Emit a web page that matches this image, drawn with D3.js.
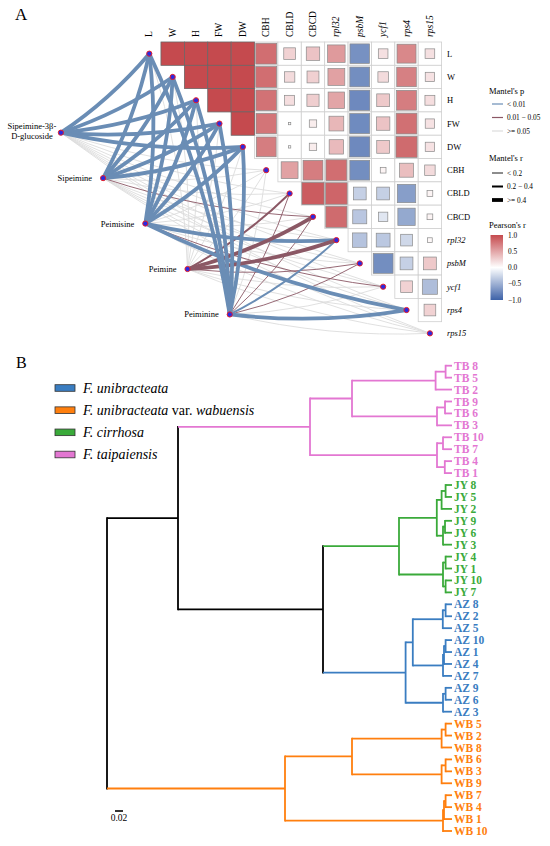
<!DOCTYPE html>
<html><head><meta charset="utf-8">
<script src="https://cdn.jsdelivr.net/npm/d3@7"></script>
<style>body{margin:0;background:#fff} svg{display:block} text{font-family:"Liberation Serif","Times New Roman",serif}</style>
</head><body><svg id="c" width="550" height="846"></svg>
<script>
// ---------------- DATA ----------------
const vars = ["L","W","H","FW","DW","CBH","CBLD","CBCD","rpl32","psbM","ycf1","rps4","rps15"];
const italicVars = ["rpl32","psbM","ycf1","rps4","rps15"];
// Pearson's r, upper triangle, row i holds r(i, j) for j > i
const rowL     = [1.0,1.0,1.0,1.0,0.80,0.25,0.33,0.56,-0.70,0.17,0.66,0.17];
const rowW     = [1.0,1.0,1.0,0.80,0.20,0.26,0.52,-0.72,0.20,0.70,0.16];
const rowH     = [1.0,1.0,0.78,0.18,0.27,0.50,-0.75,0.30,0.72,0.18];
const rowFW    = [1.0,0.76,0.01,0.10,0.40,-0.74,0.33,0.79,0.16];
const rowDW    = [0.72,0.01,0.10,0.38,-0.75,0.30,0.82,0.16];
const rowCBH   = [0.52,0.72,0.80,-0.72,0.06,0.36,0.20];
const rowCBLD  = [0.90,0.85,-0.30,-0.30,-0.62,0.06];
const rowCBCD  = [0.82,-0.36,-0.16,-0.55,0.06];
const rowRpl32 = [-0.38,-0.35,-0.25,0.04];
const rowPsbM  = [-0.72,-0.30,0.30];
const rowYcf1  = [0.25,-0.42];
const rowRps4  = [0.25];
const pearsonRows = [rowL,rowW,rowH,rowFW,rowDW,rowCBH,rowCBLD,rowCBCD,rowRpl32,rowPsbM,rowYcf1,rowRps4];

const compounds = ["Sipeimine-3β-D-glucoside","Sipeimine","Peimisine","Peimine","Peiminine"];
const compoundLabels = [["Sipeimine-3β-","D-glucoside"],["Sipeimine"],["Peimisine"],["Peimine"],["Peiminine"]];
// Mantel's p class per compound x variable: 0 "< 0.01", 1 "0.01 - 0.05", 2 ">= 0.05"
const mantelP = [
  [0,0,0,0,0,2,2,2,2,2,2,2,2],
  [0,0,0,0,0,2,2,1,2,2,2,2,2],
  [0,0,0,0,0,2,2,2,0,2,1,0,2],
  [2,2,2,2,2,2,1,1,1,1,2,2,2],
  [0,0,0,0,0,2,1,1,0,1,2,0,2]
];
// Mantel's r class: 0 "< 0.2", 1 "0.2 - 0.4", 2 ">= 0.4"
const mantelR = [
  [2,2,2,2,2,0,0,0,0,0,0,0,0],
  [2,2,2,2,2,0,0,0,0,0,0,0,0],
  [2,2,2,2,2,0,0,0,2,0,0,2,0],
  [0,0,0,0,0,0,1,2,2,0,0,0,0],
  [2,2,2,2,2,0,0,0,1,0,0,2,0]
];
const pLabels = ["< 0.01","0.01 \u2212 0.05",">= 0.05"];
const rLabels = ["< 0.2","0.2 \u2212 0.4",">= 0.4"];
const pearsonTicks = [1.0,0.5,0.0,-0.5,-1.0];

// Dendrogram (panel B)
const leaves = ["TB 8","TB 5","TB 2","TB 9","TB 6","TB 3","TB 10","TB 7","TB 4","TB 1",
  "JY 8","JY 5","JY 2","JY 9","JY 6","JY 3","JY 4","JY 1","JY 10","JY 7",
  "AZ 8","AZ 2","AZ 5","AZ 10","AZ 1","AZ 4","AZ 7","AZ 9","AZ 6","AZ 3",
  "WB 5","WB 2","WB 8","WB 6","WB 3","WB 9","WB 7","WB 4","WB 1","WB 10"];
// merges: [childA, childB, height]; "#k" refers to merge k
const merges = [
  ["TB 8","TB 5",0.016],["#0","TB 2",0.041],["TB 9","TB 6",0.0175],["#2","TB 3",0.0375],
  ["TB 10","TB 7",0.0225],["TB 4","TB 1",0.018],["#4","#5",0.0375],["#1","#3",0.25],["#7","#6",0.355],
  ["JY 8","JY 5",0.016],["#9","JY 2",0.026],["JY 9","JY 6",0.0175],["#11","JY 3",0.0225],["#10","#12",0.038],
  ["JY 4","JY 1",0.016],["JY 10","JY 7",0.016],["#14","#15",0.0225],["#13","#16",0.1325],
  ["AZ 8","AZ 2",0.016],["#18","AZ 5",0.023],["AZ 10","AZ 1",0.016],["#20","AZ 4",0.02],["#21","AZ 7",0.0225],
  ["#19","#22",0.098],["AZ 9","AZ 6",0.016],["#24","AZ 3",0.0225],["#23","#25",0.116],
  ["#17","#26",0.3225],["#8","#27",0.685],
  ["WB 5","WB 2",0.016],["#29","WB 8",0.026],["WB 6","WB 3",0.016],["#31","WB 9",0.026],
  ["WB 7","WB 4",0.016],["#33","WB 1",0.02],["#34","WB 10",0.0225],["#30","#32",0.25],["#36","#35",0.4175],
  ["#28","#37",0.8625]
];
const groupCodes = ["AZ","WB","JY","TB"];
const groupNames = [["F. unibracteata"],["F. unibracteata"," var. ","wabuensis"],["F. cirrhosa"],["F. taipaiensis"]];
const groupColors = ["#3a7dc1","#ff7f0e","#3aaa3a","#e377d2"];
const scaleBarValue = 0.02;

// ---------------- DRAW ----------------
const svg = d3.select("#c");

// Panel A
svg.append("text").attr("x",15).attr("y",20).attr("font-size",17).text("A");

const x = d3.scaleBand().domain(vars).range([137.6,441.6]);
const y = d3.scaleBand().domain(vars).range([42,345]);
const bw = x.bandwidth(), bh = y.bandwidth();
const color = d3.scaleLinear().domain([-1,0,1]).range(["#3d62a8","#ffffff","#c54a4e"]);
const cx = v => x(v)+bw/2, cy = v => y(v)+bh/2;

const cells = [];
pearsonRows.forEach((row,i)=>row.forEach((r,k)=>cells.push({a:vars[i],b:vars[i+1+k],r})));

const gHeat = svg.append("g");
gHeat.selectAll("rect.cell").data(cells).join("rect")
  .attr("x",d=>x(d.b)).attr("y",d=>y(d.a)).attr("width",bw).attr("height",bh)
  .attr("fill","#fff").attr("stroke","#cfcfcf").attr("stroke-width",0.8);
gHeat.selectAll("rect.sq").data(cells).join("rect")
  .each(function(d){
    const s = Math.sqrt(Math.abs(d.r));
    d3.select(this).attr("width",bw*s).attr("height",bh*s)
      .attr("x",cx(d.b)-bw*s/2).attr("y",cy(d.a)-bh*s/2);
  })
  .attr("fill",d=>color(d.r)).attr("stroke",d=>Math.abs(d.r)>0.95?"#666":"#8a8a8a").attr("stroke-width",0.7);

// column labels
svg.append("g").selectAll("text").data(vars).join("text")
  .attr("transform",d=>`translate(${cx(d)+3},37) rotate(-90)`)
  .attr("font-size",9.5).attr("font-style",d=>italicVars.includes(d)?"italic":"normal").text(d=>d);
// row labels
svg.append("g").selectAll("text").data(vars).join("text")
  .attr("x",447).attr("y",d=>cy(d)).attr("dy","0.35em")
  .attr("font-size",8.5).attr("font-style",d=>italicVars.includes(d)?"italic":"normal").text(d=>d);

// compound node layout along a line parallel to the diagonal (grid units)
const compCol = d3.scaleLinear().domain([0,compounds.length-1]).range([-3.28,3.94]);
const compRow = d3.scaleLinear().domain([0,compounds.length-1]).range([3.89,11.69]);
const gridX = d3.scaleLinear().domain([0,vars.length]).range(x.range());
const gridY = d3.scaleLinear().domain([0,vars.length]).range(y.range());
const comp = compounds.map((c,i)=>({name:c, lines:compoundLabels[i], x:gridX(compCol(i)), y:gridY(compRow(i))}));

const pColor = ["#6a8db5","#8b5865","#dcdcdc"];
const rWidth = [0.9,2.0,3.8];
const edges = [];
comp.forEach((c,i)=>vars.forEach((v,j)=>edges.push({c, v, p:mantelP[i][j], r:mantelR[i][j]})));
edges.sort((a,b)=> (b.p===2)-(a.p===2) || a.r-b.r);
const curv = 0.07;
const edgePath = e => {
  const sx=e.c.x, sy=e.c.y, tx=cx(e.v), ty=cy(e.v);
  const dx=tx-sx, dy=ty-sy;
  const mx=(sx+tx)/2 - curv*dy, my=(sy+ty)/2 + curv*dx;
  return `M${sx},${sy}Q${mx},${my} ${tx},${ty}`;
};
svg.append("g").selectAll("path").data(edges).join("path")
  .attr("d",edgePath).attr("fill","none")
  .attr("stroke",d=>pColor[d.p]).attr("stroke-width",d=>rWidth[d.r]).attr("stroke-linecap","butt");

// nodes
const nodeStyle = s => s.attr("r",2.6).attr("fill","#2a2ae0").attr("stroke","#e8202a").attr("stroke-width",1);
svg.append("g").selectAll("circle").data(vars).join("circle").attr("cx",cx).attr("cy",cy).call(nodeStyle);
svg.append("g").selectAll("circle").data(comp).join("circle").attr("cx",d=>d.x).attr("cy",d=>d.y).call(nodeStyle);

// compound labels
comp.forEach(c=>{
  if(c.lines.length>1){
    const t = svg.append("text").attr("font-size",8.5).attr("text-anchor","middle");
    c.lines.forEach((l,k)=>t.append("tspan").attr("x",c.x-29).attr("y",c.y-3.5+k*9.8).text(l));
  } else {
    svg.append("text").attr("x",c.x-11).attr("y",c.y).attr("dy","0.35em")
      .attr("text-anchor","end").attr("font-size",8.5).text(c.lines[0]);
  }
});

// Legends A
const lg = svg.append("g").attr("transform","translate(489,0)");
lg.append("text").attr("x",0).attr("y",94).attr("font-size",8.5).text("Mantel's p");
const pStep = d3.scalePoint().domain(d3.range(3)).range([104,131]);
pLabels.forEach((l,i)=>{
  lg.append("line").attr("x1",3).attr("x2",14).attr("y1",pStep(i)).attr("y2",pStep(i)).attr("stroke",pColor[i]).attr("stroke-width",1.2);
  lg.append("text").attr("x",18).attr("y",pStep(i)).attr("dy","0.35em").attr("font-size",7.3).text(l);
});
lg.append("text").attr("x",0).attr("y",161).attr("font-size",8.5).text("Mantel's r");
const rStep = d3.scalePoint().domain(d3.range(3)).range([173,200]);
rLabels.forEach((l,i)=>{
  lg.append("line").attr("x1",3).attr("x2",14).attr("y1",rStep(i)).attr("y2",rStep(i)).attr("stroke","#000").attr("stroke-width",rWidth[i]);
  lg.append("text").attr("x",18).attr("y",rStep(i)).attr("dy","0.35em").attr("font-size",7.3).text(l);
});
lg.append("text").attr("x",0).attr("y",228).attr("font-size",8.5).text("Pearson's r");
const grad = svg.append("defs").append("linearGradient").attr("id","pg").attr("x1",0).attr("x2",0).attr("y1",0).attr("y2",1);
d3.range(0,1.001,0.1).forEach(t=>grad.append("stop").attr("offset",t).attr("stop-color",color(1-2*t)));
const pr = d3.scaleLinear().domain([1,-1]).range([235,300]);
lg.append("rect").attr("x",1.5).attr("y",pr(1)).attr("width",12.5).attr("height",pr(-1)-pr(1)).attr("fill","url(#pg)");
lg.selectAll("text.pt").data(pearsonTicks).join("text").attr("x",19).attr("y",d=>pr(d)).attr("dy","0.35em")
  .attr("font-size",7.3).text(d=>d3.format(".1f")(d).replace("-","\u2212"));

// Panel B
svg.append("text").attr("x",16).attr("y",368).attr("font-size",16).text("B");
const legY = d3.scalePoint().domain(d3.range(4)).range([388,454.5]);
groupNames.forEach((parts,i)=>{
  svg.append("rect").attr("x",55).attr("y",legY(i)-3.3).attr("width",20).attr("height",6.6)
    .attr("fill",groupColors[i]).attr("stroke","#333").attr("stroke-width",0.8);
  const t = svg.append("text").attr("x",83).attr("y",legY(i)).attr("dy","0.35em").attr("font-size",14);
  parts.forEach((p,k)=>t.append("tspan").attr("font-style",k===1?"normal":"italic").text(p));
});

// build tree
const nodes = merges.map((m,k)=>({id:"#"+k, height:m[2], children:[]}));
const leafNodes = {};
leaves.forEach(l=>leafNodes[l]={id:l,height:0});
const ref = s => s.startsWith("#") ? nodes[+s.slice(1)] : leafNodes[s];
merges.forEach((m,k)=>{ nodes[k].children=[ref(m[0]),ref(m[1])]; });
const root = d3.hierarchy(nodes[nodes.length-1]);
const ty = d3.scalePoint().domain(leaves).range([365.7,831]);
const tx = d3.scaleLinear().domain([0,0.8625]).range([452,107]);
const grpColor = c => groupColors[groupCodes.indexOf(c)];
root.eachAfter(n=>{
  if(!n.children){ n.py = ty(n.data.id); n.grp = n.data.id.split(" ")[0]; }
  else {
    n.py = d3.mean(n.children,c=>c.py);
    const g = new Set(n.children.map(c=>c.grp));
    n.grp = g.size===1 && ![...g].includes(null) ? [...g][0] : null;
  }
  n.px = tx(n.data.height);
});
const gTree = svg.append("g").attr("fill","none").attr("stroke-width",1.8);
root.descendants().filter(n=>n.children).forEach(n=>{
  const ys = n.children.map(c=>c.py);
  gTree.append("line").attr("x1",n.px).attr("x2",n.px).attr("y1",d3.min(ys)-0.9).attr("y2",d3.max(ys)+0.9)
    .attr("stroke",n.grp?grpColor(n.grp):"#000");
  n.children.forEach(c=>{
    gTree.append("line").attr("x1",n.px).attr("x2",c.px).attr("y1",c.py).attr("y2",c.py)
      .attr("stroke",c.grp?grpColor(c.grp):"#000");
  });
});
svg.append("g").selectAll("text").data(root.leaves()).join("text")
  .attr("x",454).attr("y",d=>d.py).attr("dy","0.35em").attr("font-size",11.5).attr("font-weight","bold")
  .attr("fill",d=>grpColor(d.grp)).text(d=>d.data.id);

// scale bar
const barX0 = 115;
const sb = d3.scaleLinear().domain([0,0.8625]).range([0,452-107]);
svg.append("line").attr("x1",barX0).attr("x2",barX0+sb(scaleBarValue)).attr("y1",811).attr("y2",811).attr("stroke","#000").attr("stroke-width",1.6);
svg.append("text").attr("x",barX0+sb(scaleBarValue)/2).attr("y",821).attr("text-anchor","middle").attr("font-size",9.5).text(scaleBarValue);
</script></body></html>
